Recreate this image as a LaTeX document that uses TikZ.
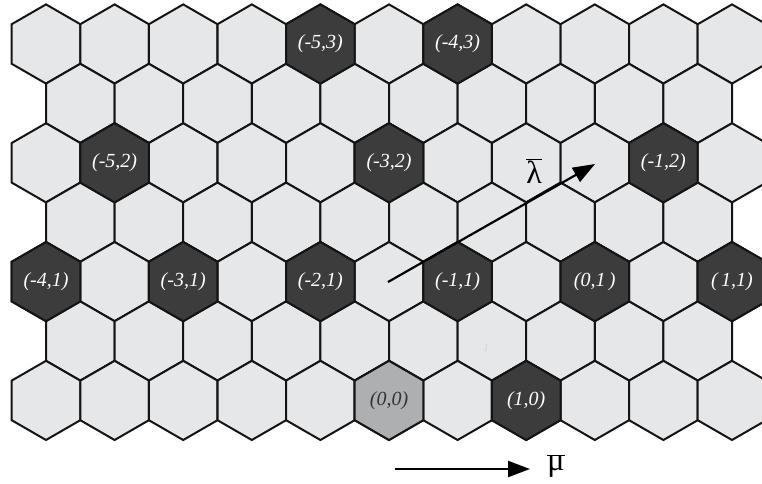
\documentclass[tikz,border=0pt]{standalone}
\usepackage{fontspec}
\setmainfont{Liberation Serif}
\usetikzlibrary{arrows.meta}
\definecolor{cellL}{HTML}{E6E7E9}
\definecolor{cellD}{HTML}{3C3C3C}
\definecolor{cellM}{HTML}{AEAFB1}
\definecolor{txtM}{HTML}{333333}
\newcommand\Rhex{39.6}
\newcommand\hexcell[3]{%
  \coordinate (#1) at (#2);
  \path[#3] (#1) ++(90:\Rhex) -- ++(-30:\Rhex) -- ++(-90:\Rhex) -- ++(-150:\Rhex) -- ++(150:\Rhex) -- ++(90:\Rhex) -- cycle;}
\begin{document}
\begin{tikzpicture}[x=1pt,y=-1pt,
  cellbase/.style={draw=black!92,line width=2pt,line join=miter},
  lightcell/.style={cellbase,fill=cellL},
  darkcell/.style={cellbase,fill=cellD},
  midcell/.style={cellbase,fill=cellM},
  darklabel/.style={text=white,font=\fontsize{20}{20}\selectfont\itshape,inner sep=0pt},
  midlabel/.style={text=txtM,font=\fontsize{20}{20}\selectfont\itshape,inner sep=0pt},
  vec/.style={line width=2.2pt,-{Triangle[length=22pt,width=16pt]}},
  veclabel/.style={font=\fontsize{32}{32}\selectfont,inner sep=0pt}]
\useasboundingbox (0,0) rectangle (762,483);
\clip (0,0) rectangle (762,483);
% all cells
\foreach \r in {0,...,6}{
  \pgfmathsetmacro\yy{44+59.4*\r}
  \pgfmathtruncatemacro\odd{mod(\r,2)}
  \ifnum\odd=0
    \foreach \k in {0,...,10}{
      \pgfmathsetmacro\xx{46+68.6*\k}
      \hexcell{c-\r-\k}{\xx,\yy}{lightcell}
    }
  \else
    \foreach \k in {0,...,9}{
      \pgfmathsetmacro\xx{80.3+68.6*\k}
      \hexcell{c-\r-\k}{\xx,\yy}{lightcell}
    }
  \fi
}
% highlighted cells
\foreach \r/\k/\t in {0/4/{(-5,3)},0/6/{(-4,3)},2/1/{(-5,2)},2/5/{(-3,2)},2/9/{(-1,2)},
  4/0/{(-4,1)},4/2/{(-3,1)},4/4/{(-2,1)},4/6/{(-1,1)},4/8/{(0,1\,)},4/10/{(\,1,1)},6/7/{(1,0)}}{
  \pgfmathsetmacro\yy{44+59.4*\r}
  \pgfmathsetmacro\xx{46+68.6*\k}
  \hexcell{d-\r-\k}{\xx,\yy}{darkcell}
  \node[darklabel] (t-\r-\k) at (d-\r-\k) {\t};
}
\hexcell{d-6-5}{389,400.4}{midcell}
\node[midlabel] (t-6-5) at (d-6-5) {(0,0)};
% faint mark
\node[text=black!18,font=\fontsize{10}{10}\selectfont\itshape,inner sep=0pt] (mark) at (486,348) {I};
% vectors
\coordinate (lamS) at (388,282);
\coordinate (lamE) at (595,164);
\draw[vec] (lamS) -- (lamE);
\node[veclabel] (lam) at (534,171) {$\overline{\hbox{λ}}$};
\coordinate (muS) at (395,469);
\coordinate (muE) at (530,469);
\draw[vec] (muS) -- (muE);
\node[veclabel] (mu) at (556,466) {$\overline{\hbox{μ}}$};
\end{tikzpicture}
\end{document}
